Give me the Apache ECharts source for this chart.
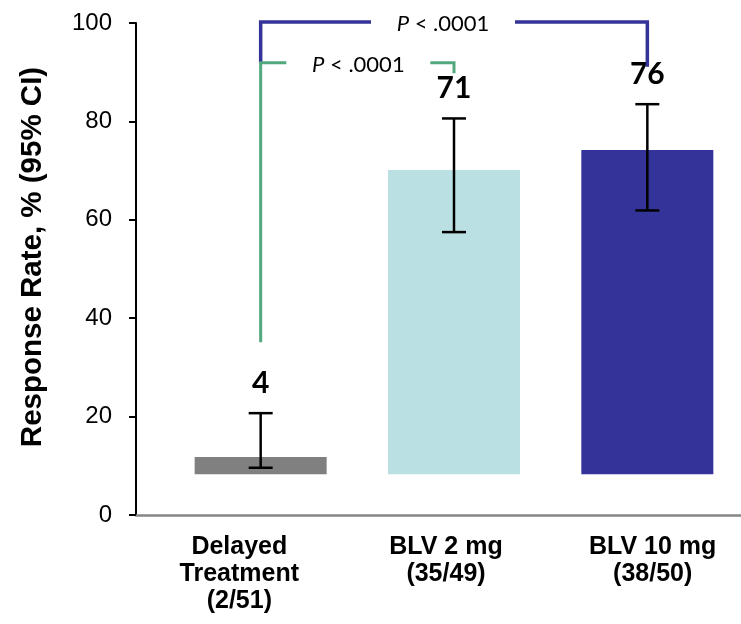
<!DOCTYPE html>
<html>
<head>
<meta charset="utf-8">
<script src="https://cdn.jsdelivr.net/npm/echarts@6/dist/echarts.min.js"></script>
<style>
  html, body { margin: 0; padding: 0; background: #fff; }
  #main { width: 741px; height: 624px; }
</style>
</head>
<body>
<div id="main"></div>
<script>
var categories = ['Delayed\nTreatment\n(2/51)', 'BLV 2 mg\n(35/49)', 'BLV 10 mg\n(38/50)'];
var barBase = 8.3;                 // bars start above zero in the original
var barTop = [11.8, 70.1, 74.2];
var errLow = [9.6, 57.5, 61.9];
var errHigh = [20.7, 80.6, 83.5];
var valueLabels = ['4', '71', '76'];
var yTicks = [0, 20, 40, 60, 80, 100];

// brackets: from / to category, top of bracket, end of left leg, end of right leg
var bracketFrom = [0, 0];
var bracketTo = [2, 1];
var bracketTop = [100.2, 91.9];
var bracketLeftEnd = [91.9, 35.1];
var bracketRightEnd = [91.1, 89.8];
var bracketLabels = ['P < .0001', 'P < .0001'];

var barColors = ['#808080', '#BBE0E3', '#333399'];
var bracketColors = ['#333399', '#52A97D'];
var bracketWidths = [3.5, 3];
var bracketTextShift = [-11, 1];

var chart = echarts.init(document.getElementById('main'), null, { renderer: 'canvas' });

var barData = barTop.map(function (v, i) {
  return { value: +(v - barBase).toFixed(2), itemStyle: { color: barColors[i] } };
});
var baseData = barTop.map(function () { return barBase; });
var errData = errLow.map(function (lo, i) { return [i, lo, errHigh[i]]; });
var bracketData = bracketFrom.map(function (f, i) {
  return [f, bracketTo[i], bracketTop[i], bracketLeftEnd[i], bracketRightEnd[i]];
});

function renderError(params, api) {
  var i = api.value(0);
  var lo = api.coord([i, api.value(1)]);
  var hi = api.coord([i, api.value(2)]);
  var x = lo[0], w = 12;
  var ls = { stroke: '#000', lineWidth: 2.5 };
  return {
    type: 'group',
    children: [
      { type: 'line', shape: { x1: x, y1: lo[1], x2: x, y2: hi[1] }, style: ls },
      { type: 'line', shape: { x1: x - w, y1: lo[1], x2: x + w, y2: lo[1] }, style: ls },
      { type: 'line', shape: { x1: x - w, y1: hi[1], x2: x + w, y2: hi[1] }, style: ls },
      {
        type: 'text',
        style: {
          text: valueLabels[params.dataIndex],
          x: x, y: hi[1] - 30,
          align: 'center', verticalAlign: 'middle',
          fontFamily: 'Lato', fontWeight: 'bold', fontSize: 30, fill: '#000'
        }
      }
    ]
  };
}

function renderBracket(params, api) {
  var idx = params.dataIndex;
  var l = api.coord([api.value(0), api.value(2)]);
  var r = api.coord([api.value(1), api.value(2)]);
  var lEnd = api.coord([api.value(0), api.value(3)]);
  var rEnd = api.coord([api.value(1), api.value(4)]);
  var y = l[1];
  var cx = (l[0] + r[0]) / 2 + bracketTextShift[idx];
  var gap = 72;
  var ls = { stroke: bracketColors[idx], lineWidth: bracketWidths[idx], fill: null, lineJoin: 'miter' };
  return {
    type: 'group',
    children: [
      { type: 'polyline', shape: { points: [[l[0], lEnd[1]], [l[0], y], [cx - gap, y]] }, style: ls },
      { type: 'polyline', shape: { points: [[cx + gap, y], [r[0], y], [r[0], rEnd[1]]] }, style: ls },
      {
        type: 'text',
        style: {
          text: '{i|P} < .0001',
          x: cx, y: y + 2,
          align: 'center', verticalAlign: 'middle',
          fontFamily: 'Lato', fontSize: 22, fill: '#000',
          rich: { i: { fontFamily: 'Lato', fontSize: 22, fontStyle: 'italic', fill: '#000' } }
        }
      }
    ]
  };
}

var option = {
  backgroundColor: '#fff',
  animation: false,
  grid: [
    { left: 164, width: 580, top: 23, bottom: 109, outerBoundsMode: 'none' },
    { left: 136, width: 620, top: 23, bottom: 109, outerBoundsMode: 'none' }
  ],
  xAxis: [
    { type: 'category', gridIndex: 0, data: categories, show: false },
    {
      type: 'category', gridIndex: 1, data: categories,
      axisLine: { lineStyle: { color: '#868686', width: 2.5 } },
      axisTick: { show: false },
      axisLabel: {
        margin: 19, color: '#000', fontFamily: 'Liberation Sans', fontWeight: 'bold',
        fontSize: 25, lineHeight: 27, interval: 0
      }
    }
  ],
  yAxis: [
    { type: 'value', gridIndex: 0, min: 0, max: 100, interval: 20, show: false },
    {
      type: 'value', gridIndex: 1, min: yTicks[0], max: yTicks[yTicks.length - 1], interval: 20,
      name: 'Response Rate, % (95% CI)',
      nameLocation: 'middle', nameGap: 88,
      nameTextStyle: {
        fontFamily: 'Liberation Sans', fontWeight: 'bold', fontSize: 29.5, color: '#000',
        padding: [0, 0, 0, 24]
      },
      axisLine: { show: true, lineStyle: { color: '#000', width: 2 } },
      axisTick: { show: true, length: 7, lineStyle: { color: '#000', width: 2 } },
      splitLine: { show: false },
      axisLabel: { margin: 24, color: '#000', fontFamily: 'Liberation Sans', fontSize: 24 }
    }
  ],
  series: [
    {
      type: 'bar', xAxisIndex: 0, yAxisIndex: 0, stack: 'b', barWidth: 132,
      data: baseData, itemStyle: { color: 'rgba(0,0,0,0)' }, silent: true
    },
    {
      type: 'bar', xAxisIndex: 0, yAxisIndex: 0, stack: 'b', barWidth: 132,
      data: barData
    },
    {
      type: 'custom', xAxisIndex: 0, yAxisIndex: 0, renderItem: renderError,
      data: errData, z: 5
    },
    {
      type: 'custom', xAxisIndex: 0, yAxisIndex: 0, renderItem: renderBracket,
      data: bracketData, z: 6, clip: false
    }
  ]
};

chart.setOption(option);
</script>
</body>
</html>
